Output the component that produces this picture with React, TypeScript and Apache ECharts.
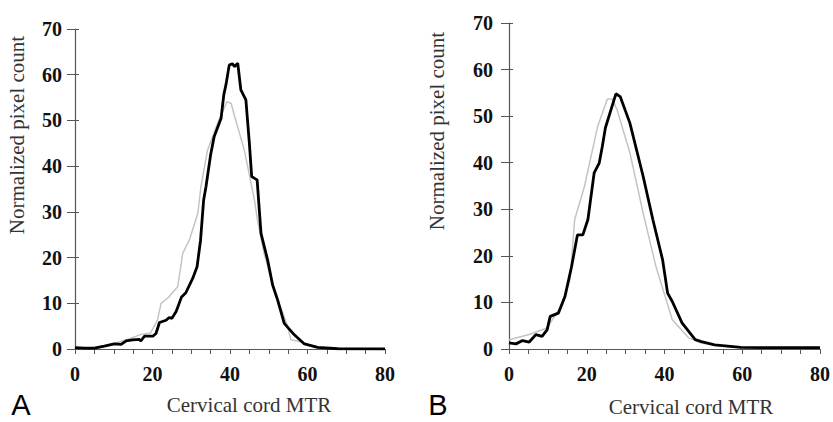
import React, { useEffect, useRef } from "react";
import * as echarts from "echarts";

// Panel A (left): [MTR, normalized pixel count]
const panelABlack: number[][] = [
  [0, 0.3], [2.5, 0.2], [5, 0.2], [7.6, 0.65], [10.1, 1.1], [11.9, 1.0], [13.2, 1.8],
  [14.9, 2.0], [16.6, 2.1], [17.0, 1.75], [17.9, 2.8], [20.1, 2.8], [20.9, 3.4],
  [21.8, 5.8], [23.5, 6.3], [24.3, 6.9], [25.0, 6.7], [26.1, 8.2], [27.5, 11.4],
  [28.6, 12.3], [30.4, 15.5], [31.5, 18.0], [32.4, 23.8], [33.2, 32.6], [33.8, 35.5],
  [35.0, 42.5], [35.9, 46.4], [37.7, 50.5], [38.4, 55.6], [39.0, 58.0], [39.8, 62.1],
  [40.6, 62.4], [41.2, 61.8], [42.0, 62.5], [42.8, 56.7], [44.1, 54.5], [45.0, 45.0],
  [45.6, 37.7], [47.0, 37.0], [48.0, 25.3], [49.7, 19.5], [51.0, 14.0], [52.3, 10.7],
  [54.0, 5.6], [56.6, 3.1], [59.2, 1.1], [62.6, 0.35], [67.8, 0.05], [80, 0],
];
const panelAGray: number[][] = [
  [0, 0.3], [5, 0.3], [10, 1.2], [14, 2.2], [17, 3.2], [19.5, 3.5], [21.3, 6.3],
  [22.2, 10.0], [23.9, 11.1], [26.5, 13.6], [27.8, 20.9], [29.5, 23.8], [31.7, 29.7],
  [32.5, 35.5], [34.2, 43.5], [36.8, 49.4], [39.2, 54.1], [40.3, 53.7], [41.1, 51.2],
  [43.7, 43.5], [46.3, 32.6], [47.1, 28.2], [48.8, 20.9], [51.4, 13.0], [54.9, 4.9],
  [55.7, 2.0], [58.3, 1.6], [60.0, 1.1], [63.5, 0.15], [80, 0],
];

// Panel B (right)
const panelBBlack: number[][] = [
  [0, 1.3], [1.8, 1.1], [3.5, 1.8], [5.2, 1.5], [6.9, 3.1], [8.5, 2.7], [9.8, 4.1],
  [10.6, 7.0], [12.7, 7.7], [14.4, 11.3], [16.1, 17.7], [17.6, 24.5], [19.0, 24.5],
  [20.3, 27.8], [21.9, 37.8], [23.2, 39.9], [24.0, 43.5], [24.8, 47.5], [26.5, 52.1],
  [27.5, 54.8], [28.6, 54.2], [31.1, 48.5], [34.5, 37.1], [37.0, 27.8], [39.5, 19.2],
  [40.8, 12.0], [42.0, 10.2], [44.5, 5.6], [47.9, 2.0], [49.5, 1.6], [52.9, 0.9],
  [59.6, 0.35], [65, 0.3], [80, 0.3],
];
const panelBGray: number[][] = [
  [0, 2.0], [5.2, 3.1], [9.8, 4.5], [13.6, 9.5], [15.7, 14.9], [16.9, 27.8],
  [19.4, 34.9], [22.8, 47.8], [25.3, 53.7], [26.5, 53.7], [27.8, 51.4], [31.1, 42.1],
  [34.5, 29.2], [37.8, 17.7], [42.0, 6.3], [46.2, 2.4], [49.5, 1.3], [54.6, 0.6],
  [60, 0.3], [80, 0.3],
];

const xTicks = [0, 20, 40, 60, 80];
const yTicks = [0, 10, 20, 30, 40, 50, 60, 70];

const serif = "Liberation Serif";
const axisColor = "#555";

function xAxisFor(gridIndex: number) {
  return {
    type: "value" as const,
    gridIndex,
    min: 0,
    max: 80,
    interval: 5,
    axisLine: { show: true, lineStyle: { color: axisColor, width: 1.2 } },
    axisTick: { show: true, length: 5, lineStyle: { color: axisColor } },
    splitLine: { show: false },
    axisLabel: {
      margin: 15,
      fontFamily: serif,
      fontWeight: "bold" as const,
      fontSize: 20,
      color: "#111",
      alignMinLabel: "center",
      alignMaxLabel: "center",
      formatter: (v: number) => (xTicks.includes(v) ? String(v) : ""),
    },
  };
}

function yAxesFor(gridIndex: number, labelMargin: number) {
  return [
    {
      type: "value" as const,
      gridIndex,
      min: 0,
      max: 70,
      interval: 10,
      axisLine: { show: true, lineStyle: { color: axisColor, width: 1.2 } },
      axisTick: { show: true, length: 8, lineStyle: { color: axisColor } },
      splitLine: { show: false },
      axisLabel: {
        margin: labelMargin,
        fontFamily: serif,
        fontWeight: "bold" as const,
        fontSize: 20,
        color: "#111",
        formatter: (v: number) => (yTicks.includes(v) ? String(v) : ""),
      },
    },
    {
      type: "value" as const,
      gridIndex,
      position: "left" as const,
      min: 0,
      max: 70,
      interval: 10,
      axisLine: { show: false },
      axisTick: { show: true, inside: true, length: 4, lineStyle: { color: axisColor } },
      splitLine: { show: false },
      axisLabel: { show: false },
    },
  ];
}

export default function App() {
  const ref = useRef<HTMLDivElement>(null);
  useEffect(() => {
    if (!ref.current) return;
    const chart = echarts.init(ref.current, undefined, { renderer: "svg" });
    const titleFont = `21px "${serif}"`;
    chart.setOption({
      animation: false,
      backgroundColor: "#fff",
      grid: [
        { left: 75, top: 29, width: 310, height: 320 },
        { left: 509, top: 23, width: 319, height: 326 },
      ],
      xAxis: [xAxisFor(0), xAxisFor(1)],
      yAxis: [...yAxesFor(0, 13), ...yAxesFor(1, 16)],
      series: [
        {
          type: "line", xAxisIndex: 0, yAxisIndex: 0, data: panelAGray, showSymbol: false,
          lineStyle: { color: "#c4c4c4", width: 1.5 }, z: 2,
        },
        {
          type: "line", xAxisIndex: 0, yAxisIndex: 0, data: panelABlack, showSymbol: false,
          lineStyle: { color: "#000", width: 2.8 }, z: 3,
        },
        {
          type: "line", xAxisIndex: 1, yAxisIndex: 2, data: panelBGray, showSymbol: false,
          lineStyle: { color: "#c4c4c4", width: 1.5 }, z: 2,
        },
        {
          type: "line", xAxisIndex: 1, yAxisIndex: 2, data: panelBBlack, showSymbol: false,
          lineStyle: { color: "#000", width: 2.8 }, z: 3,
        },
      ],
      graphic: [
        {
          type: "text", x: 17, y: 135, rotation: Math.PI / 2,
          style: { text: "Normalized pixel count", font: titleFont, fill: "#333", align: "center", verticalAlign: "middle" },
        },
        {
          type: "text", x: 437, y: 131, rotation: Math.PI / 2,
          style: { text: "Normalized pixel count", font: titleFont, fill: "#333", align: "center", verticalAlign: "middle" },
        },
        {
          type: "text", x: 249, y: 405,
          style: { text: "Cervical cord MTR", font: titleFont, fill: "#333", align: "center", verticalAlign: "middle" },
        },
        {
          type: "text", x: 691, y: 407,
          style: { text: "Cervical cord MTR", font: titleFont, fill: "#333", align: "center", verticalAlign: "middle" },
        },
        {
          type: "text", x: 21, y: 405,
          style: { text: "A", font: '29px "Liberation Sans"', fill: "#000", align: "center", verticalAlign: "middle" },
        },
        {
          type: "text", x: 438, y: 405,
          style: { text: "B", font: '29px "Liberation Sans"', fill: "#000", align: "center", verticalAlign: "middle" },
        },
      ],
    });
    return () => chart.dispose();
  }, []);
  return (
    <div
      ref={ref}
      style={{ position: "absolute", left: 0, top: 0, width: 833, height: 422 }}
    />
  );
}
